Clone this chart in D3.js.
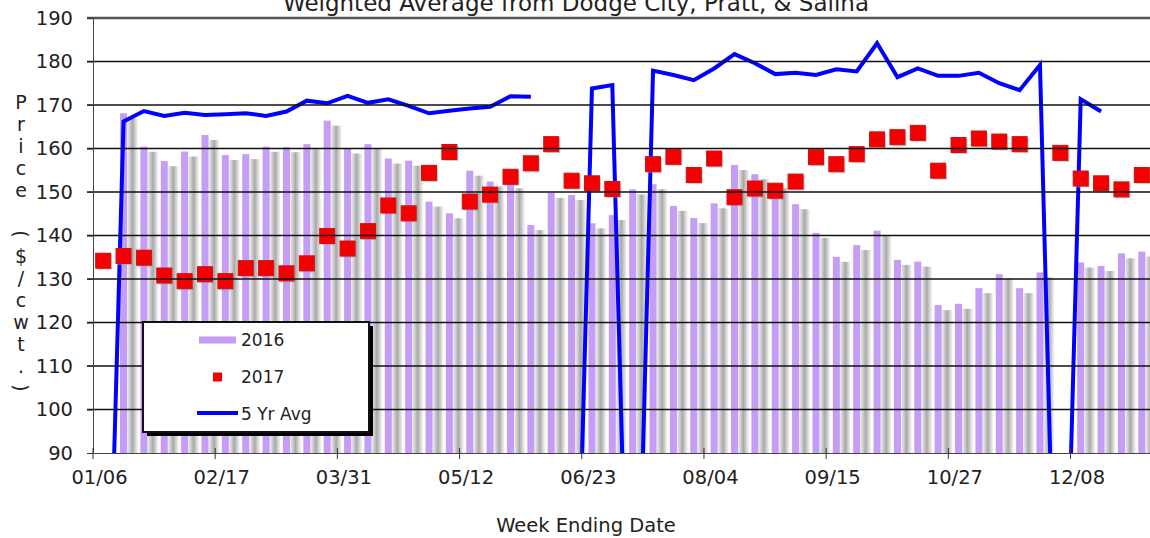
<!DOCTYPE html>
<html>
<head>
<meta charset="utf-8">
<script src="https://cdn.jsdelivr.net/npm/d3@7"></script>
<style>
  body { margin: 0; background: #fff; }
  text { font-family: "DejaVu Sans", Verdana, sans-serif; fill: #222; }
</style>
</head>
<body>
<div id="chart"></div>
<script>
//////////////////////////////////////////////////////
////////////////////// Data //////////////////////////
//////////////////////////////////////////////////////

//Week ending dates (Fridays)
var weeks = ["01/06","01/13","01/20","01/27","02/03","02/10","02/17","02/24","03/03","03/10",
	"03/17","03/24","03/31","04/07","04/14","04/21","04/28","05/05","05/12","05/19",
	"05/26","06/02","06/09","06/16","06/23","06/30","07/07","07/14","07/21","07/28",
	"08/04","08/11","08/18","08/25","09/01","09/08","09/15","09/22","09/29","10/06",
	"10/13","10/20","10/27","11/03","11/10","11/17","11/24","12/01","12/08","12/15",
	"12/22","12/29"];

var tickWeeks = ["01/06","02/17","03/31","05/12","06/23","08/04","09/15","10/27","12/08"];
var yTicks = [90,100,110,120,130,140,150,160,170,180,190];

var price2016 = [null,168.1,160.4,157.1,159.3,163.1,158.5,158.7,160.4,160.3,
	161.0,166.4,160.0,161.0,157.7,157.2,147.8,145.1,154.9,152.4,
	152.0,142.4,149.8,149.3,142.8,144.7,150.6,151.8,146.8,144.0,
	147.4,156.2,154.1,152.0,147.2,140.6,135.1,137.8,141.1,134.4,
	134.0,124.0,124.3,127.9,131.1,127.9,131.5,null,133.8,133.0,
	135.9,136.3];

var price2017 = [134.2,135.3,134.9,130.8,129.5,131.1,129.5,132.5,132.5,131.3,
	133.6,139.9,137.0,141.0,146.9,145.1,154.4,159.2,147.8,149.4,
	153.5,156.6,161.0,152.6,152.0,150.7,null,156.4,158.1,153.9,
	157.7,148.8,150.8,150.3,152.4,158.0,156.4,158.7,162.1,162.6,
	163.6,154.9,160.8,162.3,161.6,161.0,null,159.0,153.1,152.0,
	150.6,153.9];

var avg5yr = [0,166.2,168.6,167.5,168.2,167.7,167.9,168.1,167.5,168.5,
	171.0,170.4,172.1,170.5,171.3,169.8,168.1,168.7,169.2,169.6,
	172.0,171.9,null,0,173.8,174.6,0,177.9,176.9,175.7,
	178.4,181.7,179.6,177.1,177.4,176.9,178.2,177.7,184.2,176.4,
	178.4,176.7,176.7,177.4,175.0,173.4,179.2,0,171.3,168.5,
	null,null];

var yLabel = "Price ($/cwt.)";

//////////////////////////////////////////////////////
///////////////////// Set-up /////////////////////////
//////////////////////////////////////////////////////

var W = 1150, H = 538,
	plotL = 93, plotR = 1152, plotT = 18, plotB = 453;

var x = d3.scaleBand().domain(weeks).range([plotL, plotR]).padding(0);
var bw = x.bandwidth();
var y = d3.scaleLinear().domain([90, 190]).range([plotB, plotT]);

var svg = d3.select("#chart").append("svg")
	.attr("width", W)
	.attr("height", H);

var defs = svg.append("defs");
defs.append("clipPath").attr("id", "plotClip")
  .append("rect")
	.attr("x", plotL).attr("y", plotT)
	.attr("width", plotR - plotL).attr("height", plotB - plotT);

//Soft grey shading to the right of each bar
var grad = defs.append("linearGradient").attr("id", "shade")
	.attr("x1", "0%").attr("x2", "100%").attr("y1", "0%").attr("y2", "0%");
grad.append("stop").attr("offset", "0%").attr("stop-color", "#f2f2f2");
grad.append("stop").attr("offset", "50%").attr("stop-color", "#a9a9a9");
grad.append("stop").attr("offset", "100%").attr("stop-color", "#fafafa");

var plot = svg.append("g").attr("clip-path", "url(#plotClip)");

var bars = price2016.map(function(v, i) { return {week: weeks[i], value: v}; })
	.filter(function(d) { return d.value != null; });

//Bar shadows sit under the gridlines
plot.selectAll(".shadow")
	.data(bars)
	.enter().append("rect")
	  .attr("class", "shadow")
	  .attr("x", function(d) { return x(d.week) + bw/2 + 3.5; })
	  .attr("y", function(d) { return y(d.value) + 5; })
	  .attr("width", 11)
	  .attr("height", function(d) { return plotB - y(d.value) - 5; })
	  .style("fill", "url(#shade)");

//Gridlines
svg.selectAll(".grid")
	.data(yTicks.slice(1))
	.enter().append("line")
	  .attr("class", "grid")
	  .attr("x1", plotL - 6).attr("x2", W)
	  .attr("y1", function(d) { return y(d); })
	  .attr("y2", function(d) { return y(d); })
	  .style("stroke", function(d) { return d === 190 ? "#555" : "#111"; })
	  .style("stroke-width", function(d) { return d === 190 ? 2.5 : 1.5; });

//2016 bars
plot.selectAll(".bar")
	.data(bars)
	.enter().append("rect")
	  .attr("class", "bar")
	  .attr("x", function(d) { return x(d.week) + bw/2 - 3.5; })
	  .attr("y", function(d) { return y(d.value); })
	  .attr("width", 7)
	  .attr("height", function(d) { return plotB - y(d.value); })
	  .style("fill", "#c59cf6");

//Axes
var yAxis = svg.append("g")
	.attr("transform", "translate(" + plotL + ",0)")
	.call(d3.axisLeft(y).tickValues(yTicks).tickSize(6).tickSizeOuter(0).tickPadding(14));
yAxis.selectAll("text").style("font-size", "19.5px").style("fill", "#222");
yAxis.select(".domain").style("stroke", "#444");
yAxis.selectAll(".tick line").style("stroke", "#333");

var xAxis = svg.append("g")
	.attr("transform", "translate(0," + plotB + ")")
	.call(d3.axisBottom(x).tickValues(tickWeeks).tickSizeOuter(0));
xAxis.selectAll(".tick").attr("transform", function(d) { return "translate(" + x(d) + ",0)"; });
xAxis.selectAll(".tick line").attr("y1", -5).attr("y2", 6).style("stroke", "#333");
xAxis.selectAll(".tick text").attr("y", 31).attr("dy", 0).attr("dx", 6.5)
	.style("font-size", "19.5px").style("fill", "#222");
xAxis.select(".domain").style("stroke", "#444");

//5 yr average line
var line = d3.line()
	.defined(function(d) { return d != null; })
	.x(function(d, i) { return x(weeks[i]) + bw/2; })
	.y(function(d) { return y(d); });

plot.append("path")
	.datum(avg5yr)
	.attr("d", line)
	.style("fill", "none")
	.style("stroke", "#0000ff")
	.style("stroke-width", 4)
	.style("stroke-linejoin", "miter");

//2017 squares
var pts = price2017.map(function(v, i) { return {week: weeks[i], value: v}; })
	.filter(function(d) { return d.value != null; });

plot.selectAll(".sqShadow")
	.data(pts)
	.enter().append("rect")
	  .attr("class", "sqShadow")
	  .attr("x", function(d) { return x(d.week) + bw/2 - 6; })
	  .attr("y", function(d) { return y(d.value) - 6; })
	  .attr("width", 15)
	  .attr("height", 15)
	  .style("fill", "#999")
	  .style("opacity", 0.5);

plot.selectAll(".sq")
	.data(pts)
	.enter().append("rect")
	  .attr("class", "sq")
	  .attr("x", function(d) { return x(d.week) + bw/2 - 7.5; })
	  .attr("y", function(d) { return y(d.value) - 7.5; })
	  .attr("width", 15)
	  .attr("height", 15)
	  .style("fill", "#f50000")
	  .style("stroke", "#d01010")
	  .style("stroke-width", 1);

//////////////////////////////////////////////////////
//////////////////// Legend //////////////////////////
//////////////////////////////////////////////////////

var lg = svg.append("g");
lg.append("rect").attr("x", 147).attr("y", 326).attr("width", 226).attr("height", 110).style("fill", "#000");
lg.append("rect").attr("x", 143).attr("y", 322).attr("width", 226).attr("height", 110)
	.style("fill", "#fff").style("stroke", "#111").style("stroke-width", 2);

lg.append("rect").attr("x", 199).attr("y", 336.5).attr("width", 37).attr("height", 7).style("fill", "#c59cf6");
lg.append("rect").attr("x", 213).attr("y", 372.5).attr("width", 9).attr("height", 9).style("fill", "#f50000");
lg.append("line").attr("x1", 197).attr("x2", 238).attr("y1", 413).attr("y2", 413)
	.style("stroke", "#0000ff").style("stroke-width", 4);

var legendItems = ["2016", "2017", "5 Yr Avg"];
lg.selectAll(".lgText")
	.data(legendItems)
	.enter().append("text")
	  .attr("x", 241)
	  .attr("y", function(d, i) { return 346 + i*37; })
	  .style("font-size", "17px")
	  .text(function(d) { return d; });

//////////////////////////////////////////////////////
//////////////////// Titles //////////////////////////
//////////////////////////////////////////////////////

svg.append("text")
	.attr("x", 576).attr("y", 11)
	.attr("text-anchor", "middle")
	.style("font-size", "23px")
	.text("Weighted Average from Dodge City, Pratt, & Salina");

svg.append("text")
	.attr("x", 586).attr("y", 532)
	.attr("text-anchor", "middle")
	.style("font-size", "19.5px")
	.text("Week Ending Date");

//Vertical y label, one character per line
svg.selectAll(".ylab")
	.data(yLabel.split(""))
	.enter().append("text")
	  .attr("class", "ylab")
	  .attr("text-anchor", "middle")
	  .attr("dominant-baseline", "central")
	  .attr("transform", function(d, i) {
		var cy = 102 + i*22;
		var rot = (d === "(" || d === ")") ? " rotate(90)" : "";
		return "translate(21," + cy + ")" + rot;
	  })
	  .style("font-size", "19px")
	  .text(function(d) { return d; });
</script>
</body>
</html>
